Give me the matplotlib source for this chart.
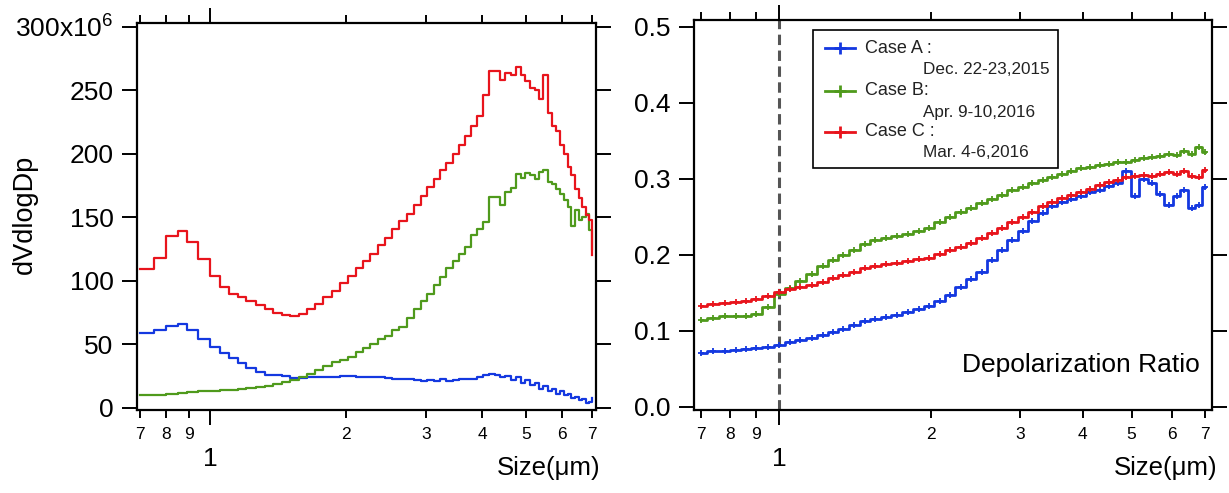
import matplotlib.pyplot as plt
from matplotlib.ticker import FixedLocator, FixedFormatter
from matplotlib.patches import Rectangle

plt.rcParams['font.family'] = ['Liberation Sans', 'DejaVu Sans']
plt.rcParams['mathtext.default'] = 'regular'

# size bins (um) for the volume distributions
size_dist = [0.70, 0.75, 0.80, 0.85, 0.89, 0.94, 1.00, 1.05, 1.10, 1.15,
             1.20, 1.26, 1.32, 1.38, 1.44, 1.50, 1.57, 1.64, 1.71, 1.78,
             1.86, 1.94, 2.02, 2.10, 2.18, 2.26, 2.35, 2.44, 2.53, 2.62,
             2.72, 2.82, 2.92, 3.02, 3.12, 3.22, 3.33, 3.44, 3.55, 3.66,
             3.78, 3.90, 4.02, 4.14, 4.26, 4.38, 4.50, 4.62, 4.74, 4.86,
             4.98, 5.10, 5.22, 5.34, 5.46, 5.58, 5.70, 5.82, 5.94, 6.06,
             6.18, 6.30, 6.42, 6.54, 6.66, 6.78, 6.90, 7.00]

# dV/dlogDp in units of 1e6
dv_case_a = [59, 61.5, 64.5, 66, 61, 54, 48, 43, 39, 35,
             31.5, 28, 26, 26, 25, 23.6, 23.6, 24.5, 24.5, 24.5,
             24.5, 25.5, 25, 24.5, 24.5, 24, 24, 23.5, 23, 23,
             22.5, 22, 21.5, 22, 21, 22.5, 21.5, 22, 23, 23,
             23, 24, 26, 27, 26, 24, 25, 22, 24, 20,
             22, 18, 20, 15, 17, 13, 15, 11, 13, 10,
             11, 8, 9, 6, 7, 4, 5, 8]
dv_case_b = [10, 10.5, 11, 12, 12.5, 13, 13.5, 14, 14.5, 15,
             15.5, 16.5, 17.5, 19, 20.5, 22, 24, 27, 30, 33,
             36, 38, 40, 44, 47, 50, 54, 57, 61, 64,
             71, 78, 84, 90, 97, 103, 110, 116, 121, 127,
             136, 141, 146, 166, 166, 160, 170, 173, 184, 181,
             185, 183, 180, 186, 187, 178, 176, 172, 168, 164,
             158, 143, 156, 148, 150, 153, 140, 125]
dv_case_c = [109, 118, 135, 139, 131, 117, 104, 95, 90, 87,
             84, 81, 78, 75, 73, 72, 74, 78, 82, 87,
             92, 98, 104, 110, 116, 121, 128, 134, 141, 147,
             153, 160, 167, 174, 180, 187, 193, 200, 207, 214,
             222, 230, 246, 265, 265, 258, 264, 262, 268, 262,
             257, 252, 250, 243, 262, 232, 222, 218, 207, 200,
             190, 183, 172, 165, 158, 152, 148, 120]

# size bins (um) for the depolarization ratio
size_dep = [0.70, 0.74, 0.78, 0.82, 0.86, 0.90, 0.95, 1.00, 1.05, 1.10,
            1.16, 1.22, 1.28, 1.34, 1.41, 1.48, 1.55, 1.63, 1.71, 1.80,
            1.89, 1.98, 2.08, 2.18, 2.29, 2.40, 2.52, 2.64, 2.77, 2.90,
            3.04, 3.18, 3.33, 3.48, 3.64, 3.80, 3.97, 4.14, 4.32, 4.50,
            4.69, 4.88, 5.08, 5.28, 5.49, 5.70, 5.92, 6.14, 6.36, 6.58,
            6.80, 7.00]
dep_case_a = [0.071, 0.073, 0.074, 0.075, 0.076, 0.077, 0.079, 0.082, 0.085, 0.088,
              0.091, 0.095, 0.099, 0.103, 0.108, 0.113, 0.116, 0.118, 0.121, 0.125,
              0.129, 0.133, 0.139, 0.147, 0.158, 0.168, 0.178, 0.193, 0.206, 0.220,
              0.232, 0.245, 0.255, 0.264, 0.270, 0.274, 0.278, 0.283, 0.286, 0.290,
              0.295, 0.310, 0.278, 0.300, 0.294, 0.280, 0.266, 0.278, 0.286, 0.262,
              0.265, 0.289]
dep_case_b = [0.114, 0.117, 0.119, 0.119, 0.119, 0.122, 0.132, 0.149, 0.157, 0.166,
              0.175, 0.185, 0.193, 0.200, 0.207, 0.215, 0.219, 0.222, 0.225, 0.228,
              0.232, 0.236, 0.243, 0.250, 0.256, 0.262, 0.268, 0.274, 0.279, 0.285,
              0.289, 0.294, 0.298, 0.302, 0.306, 0.310, 0.314, 0.316, 0.318, 0.319,
              0.322, 0.322, 0.325, 0.327, 0.329, 0.330, 0.333, 0.332, 0.337, 0.333,
              0.342, 0.336]
dep_case_c = [0.133, 0.135, 0.137, 0.138, 0.139, 0.142, 0.146, 0.151, 0.155, 0.158,
              0.161, 0.165, 0.169, 0.173, 0.178, 0.183, 0.186, 0.188, 0.190, 0.192,
              0.194, 0.196, 0.201, 0.207, 0.211, 0.216, 0.222, 0.229, 0.236, 0.243,
              0.250, 0.257, 0.264, 0.270, 0.275, 0.279, 0.283, 0.287, 0.292, 0.296,
              0.299, 0.302, 0.304, 0.305, 0.304, 0.307, 0.309, 0.306, 0.310, 0.304,
              0.303, 0.312]

case_names = ['Case A :', 'Case B:', 'Case C :']
case_dates = ['Dec. 22-23,2015', 'Apr. 9-10,2016', 'Mar. 4-6,2016']
colors = ['#1438e0', '#4f9a1c', '#e8141c']

minor_ticks = [0.7, 0.8, 0.9, 2, 3, 4, 5, 6, 7]
minor_labels = ['7', '8', '9', '2', '3', '4', '5', '6', '7']


def style_axes(ax):
    ax.set_xscale('log')
    ax.xaxis.set_major_locator(FixedLocator([1]))
    ax.xaxis.set_major_formatter(FixedFormatter(['1']))
    ax.xaxis.set_minor_locator(FixedLocator(minor_ticks))
    ax.xaxis.set_minor_formatter(FixedFormatter(minor_labels))
    ax.tick_params(axis='x', which='major', direction='out', length=11, width=1.4,
                   labelsize=19, pad=16, top=True)
    ax.tick_params(axis='x', which='minor', direction='out', length=6, width=1.4,
                   labelsize=12.5, pad=6, top=True)
    ax.tick_params(axis='y', direction='out', length=11, width=1.4,
                   labelsize=19, pad=6, right=True)
    for s in ax.spines.values():
        s.set_linewidth(1.6)
    ax.text(1.01, -0.15, 'Size(\u03bcm)', transform=ax.transAxes, ha='right',
            va='center', fontsize=18.5)


fig = plt.figure(figsize=(12.29, 4.93), dpi=100)
ax1 = fig.add_axes([0.1115, 0.1684, 0.3735, 0.785])
ax2 = fig.add_axes([0.5647, 0.1684, 0.4215, 0.791])

# left: volume size distributions
for vals, c in zip([dv_case_a, dv_case_b, dv_case_c], colors):
    ax1.plot(size_dist, vals, drawstyle='steps-post', color=c, lw=1.6)
style_axes(ax1)
ax1.set_xlim(0.689, 7.14)
ax1.set_ylim(-1.6, 303)
ax1.set_yticks([0, 50, 100, 150, 200, 250, 300])
ax1.set_yticklabels(['0', '50', '100', '150', '200', '250', '300x10$^{6}$'])
fig.text(0.0205, 0.566, 'dVdlogDp', rotation=90, ha='center', va='center', fontsize=19.5)

# right: depolarization ratio
for vals, c in zip([dep_case_a, dep_case_b, dep_case_c], colors):
    ax2.plot(size_dep, vals, drawstyle='steps-mid', color=c, lw=2,
             marker='+', markersize=5, markeredgewidth=1.3)
ax2.axvline(1.0, color='#555555', lw=2.2, ls=(0, (3.4, 1.8)), zorder=0)
style_axes(ax2)
ax2.set_xlim(0.678, 7.22)
ax2.set_ylim(-0.004, 0.509)
ax2.set_yticks([0.0, 0.1, 0.2, 0.3, 0.4, 0.5])
ax2.set_yticklabels(['0.0', '0.1', '0.2', '0.3', '0.4', '0.5'])
ax2.text(0.977, 0.115, 'Depolarization Ratio', transform=ax2.transAxes,
         ha='right', va='center', fontsize=19)

# legend box drawn by hand to keep the two-line entries
ax2.add_patch(Rectangle((0.2297, 0.6205), 0.473, 0.3535, transform=ax2.transAxes,
                        facecolor='white', edgecolor='black', lw=1.2, zorder=5))
name_y = [0.928, 0.818, 0.713]
date_y = [0.872, 0.764, 0.659]
for name, date, c, yn, yd in zip(case_names, case_dates, colors, name_y, date_y):
    ax2.plot([0.2529, 0.2818, 0.3108], [yn, yn, yn], transform=ax2.transAxes,
             color=c, lw=2, marker='+', markersize=9, markeredgewidth=2,
             markevery=[1], zorder=6, clip_on=False)
    ax2.text(0.330, yn, name, transform=ax2.transAxes, ha='left', va='center',
             fontsize=13, color='#222222', zorder=6)
    ax2.text(0.442, yd, date, transform=ax2.transAxes, ha='left', va='center',
             fontsize=12.3, color='#222222', zorder=6)

fig.savefig('out.png', dpi=100)
